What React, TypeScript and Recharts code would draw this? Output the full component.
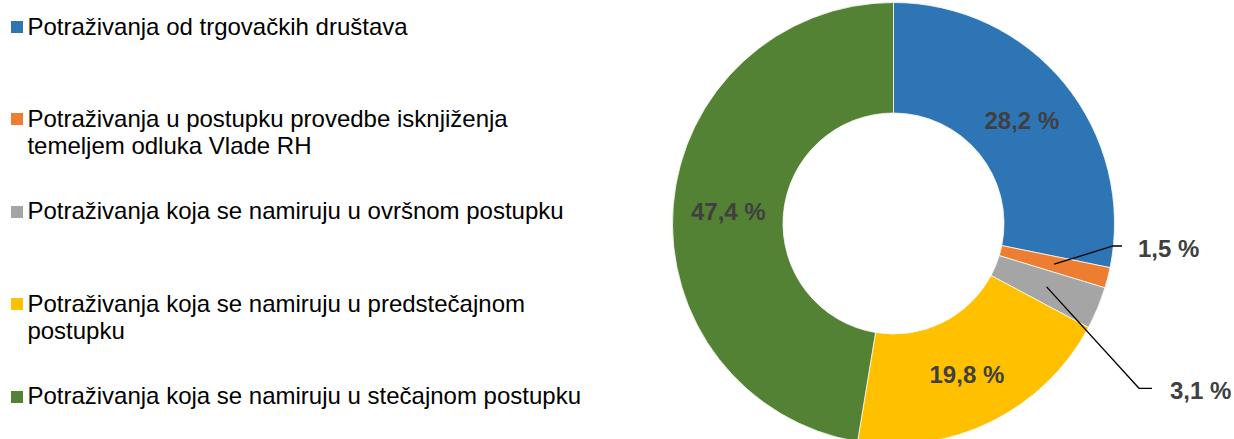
import React from "react";
import { PieChart, Pie, Cell } from "recharts";

const categories = [
  "Potraživanja od trgovačkih društava",
  "Potraživanja u postupku provedbe isknjiženja temeljem odluka Vlade RH",
  "Potraživanja koja se namiruju u ovršnom postupku",
  "Potraživanja koja se namiruju u predstečajnom postupku",
  "Potraživanja koja se namiruju u stečajnom postupku",
];
const shares = [28.2, 1.5, 3.1, 19.8, 47.4];
const colors = ["#2E75B6", "#ED7D31", "#A5A5A5", "#FFC000", "#548235"];

const data = categories.map((name, i) => ({ name, value: shares[i] }));

const FONT = '"Liberation Sans", Arial, sans-serif';
const RAD = Math.PI / 180;

const fmt = (v: number) => v.toFixed(1).replace(".", ",") + " %";

// callout placements for the small slices (offsets from the pie centre)
const callouts: Record<number, { ex: number; ey: number; len: number; gap: number }> = {
  1: { ex: 219.5, ey: 22.5, len: 9, gap: 16 },
  2: { ex: 245.5, ey: 164.8, len: 13, gap: 18 },
};

const renderLabel = (props: any) => {
  const { cx, cy, midAngle, innerRadius, outerRadius, value, index } = props;
  const r = (innerRadius + outerRadius) / 2;
  const x = cx + r * Math.cos(-midAngle * RAD);
  const y = cy + r * Math.sin(-midAngle * RAD);
  const c = callouts[index];
  if (c) {
    const ex = cx + c.ex;
    const ey = cy + c.ey;
    return (
      <g key={"lbl" + index}>
        <polyline
          points={`${x},${y} ${ex},${ey} ${ex + c.len},${ey}`}
          fill="none"
          stroke="#000"
          strokeWidth={1.3}
        />
        <text
          x={ex + c.len + c.gap}
          y={ey + 2}
          textAnchor="start"
          dominantBaseline="central"
          fontFamily={FONT}
          fontWeight="bold"
          fontSize={24}
          fill="#404040"
        >
          {fmt(value)}
        </text>
      </g>
    );
  }
  return (
    <text
      key={"lbl" + index}
      x={x}
      y={y + 2}
      textAnchor="middle"
      dominantBaseline="central"
      fontFamily={FONT}
      fontWeight="bold"
      fontSize={24}
      fill="#404040"
    >
      {fmt(value)}
    </text>
  );
};

const ROW_STEP = 92.4;
const ROW_TOP = 12.6;

export default function App() {
  return (
    <div
      style={{
        position: "absolute",
        left: 0,
        top: 0,
        width: 1234,
        height: 439,
        overflow: "hidden",
        background: "#fff",
      }}
    >
      {categories.map((name, i) => (
        <div
          key={name}
          style={{
            position: "absolute",
            left: 0,
            top: ROW_TOP + i * ROW_STEP,
            width: 640,
            fontFamily: FONT,
            fontSize: 24,
            lineHeight: "27px",
            color: "#000",
          }}
        >
          <div
            style={{
              position: "absolute",
              left: 11,
              top: 8.4,
              width: 11.5,
              height: 12,
              background: colors[i],
            }}
          />
          <div style={{ position: "absolute", left: 27.4, top: 0, width: 580 }}>{name}</div>
        </div>
      ))}
      <div style={{ position: "absolute", left: 0, top: 0 }}>
        <PieChart width={1234} height={460} margin={{ top: 0, right: 0, bottom: 0, left: 0 }}>
          <Pie
            data={data}
            dataKey="value"
            nameKey="name"
            cx={893.5}
            cy={223.5}
            innerRadius={110.5}
            outerRadius={221}
            startAngle={90}
            endAngle={-270}
            stroke="#fff"
            strokeWidth={0.75}
            label={renderLabel}
            labelLine={false}
            isAnimationActive={false}
          >
            {data.map((d, i) => (
              <Cell key={d.name} fill={colors[i]} />
            ))}
          </Pie>
        </PieChart>
      </div>
    </div>
  );
}
